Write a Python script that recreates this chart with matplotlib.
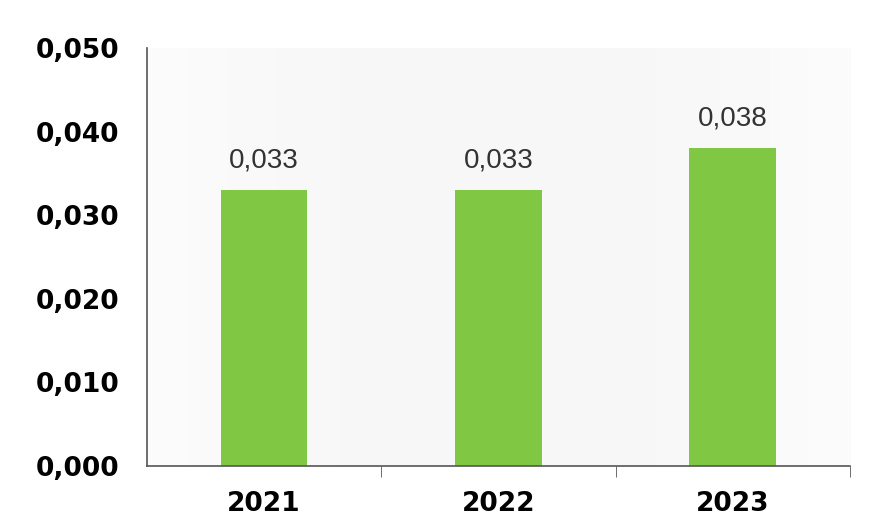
import numpy as np
import matplotlib.pyplot as plt

years = ['2021', '2022', '2023']
values = [0.033, 0.033, 0.038]
labels = ['0,033', '0,033', '0,038']
yticks = [0.0, 0.01, 0.02, 0.03, 0.04, 0.05]
ytick_labels = ['0,000', '0,010', '0,020', '0,030', '0,040', '0,050']

fig = plt.figure(figsize=(8.69, 5.21), dpi=100)
ax = fig.add_axes([0.169, 0.1056, 0.809, 0.802])

# faint grey background that fades toward the edges
grad = np.outer(np.ones(50), 1 - 0.6 * np.abs(np.linspace(-1, 1, 200)) ** 2)
ax.imshow(grad, extent=[-0.5, 2.5, 0, 0.05], aspect='auto', cmap='Greys',
          vmin=0, vmax=15, zorder=0)

x = np.arange(len(years))
ax.bar(x, values, width=0.37, color='#80c843', zorder=2)

for xi, v, lab in zip(x, values, labels):
    ax.annotate(lab, (xi, v), xytext=(0, 12), textcoords='offset points',
                ha='center', va='bottom', fontsize=20, color='#333333',
                family='Liberation Sans')

ax.set_xlim(-0.5, 2.5)
ax.set_ylim(0, 0.05)
ax.set_yticks(yticks)
ax.set_yticklabels(ytick_labels, fontsize=19, fontweight='bold')
ax.tick_params(axis='y', length=0, pad=20)
ax.set_xticks(x)
ax.set_xticklabels(years, fontsize=19, fontweight='bold')
ax.tick_params(axis='x', length=0, pad=18)
ax.set_xticks([0.5, 1.5, 2.5], minor=True)
ax.tick_params(axis='x', which='minor', length=8, color='#555555')

for s in ['top', 'right']:
    ax.spines[s].set_visible(False)
for s in ['left', 'bottom']:
    ax.spines[s].set_color('#555555')
    ax.spines[s].set_linewidth(1.2)

fig.savefig('out.png', dpi=100)
